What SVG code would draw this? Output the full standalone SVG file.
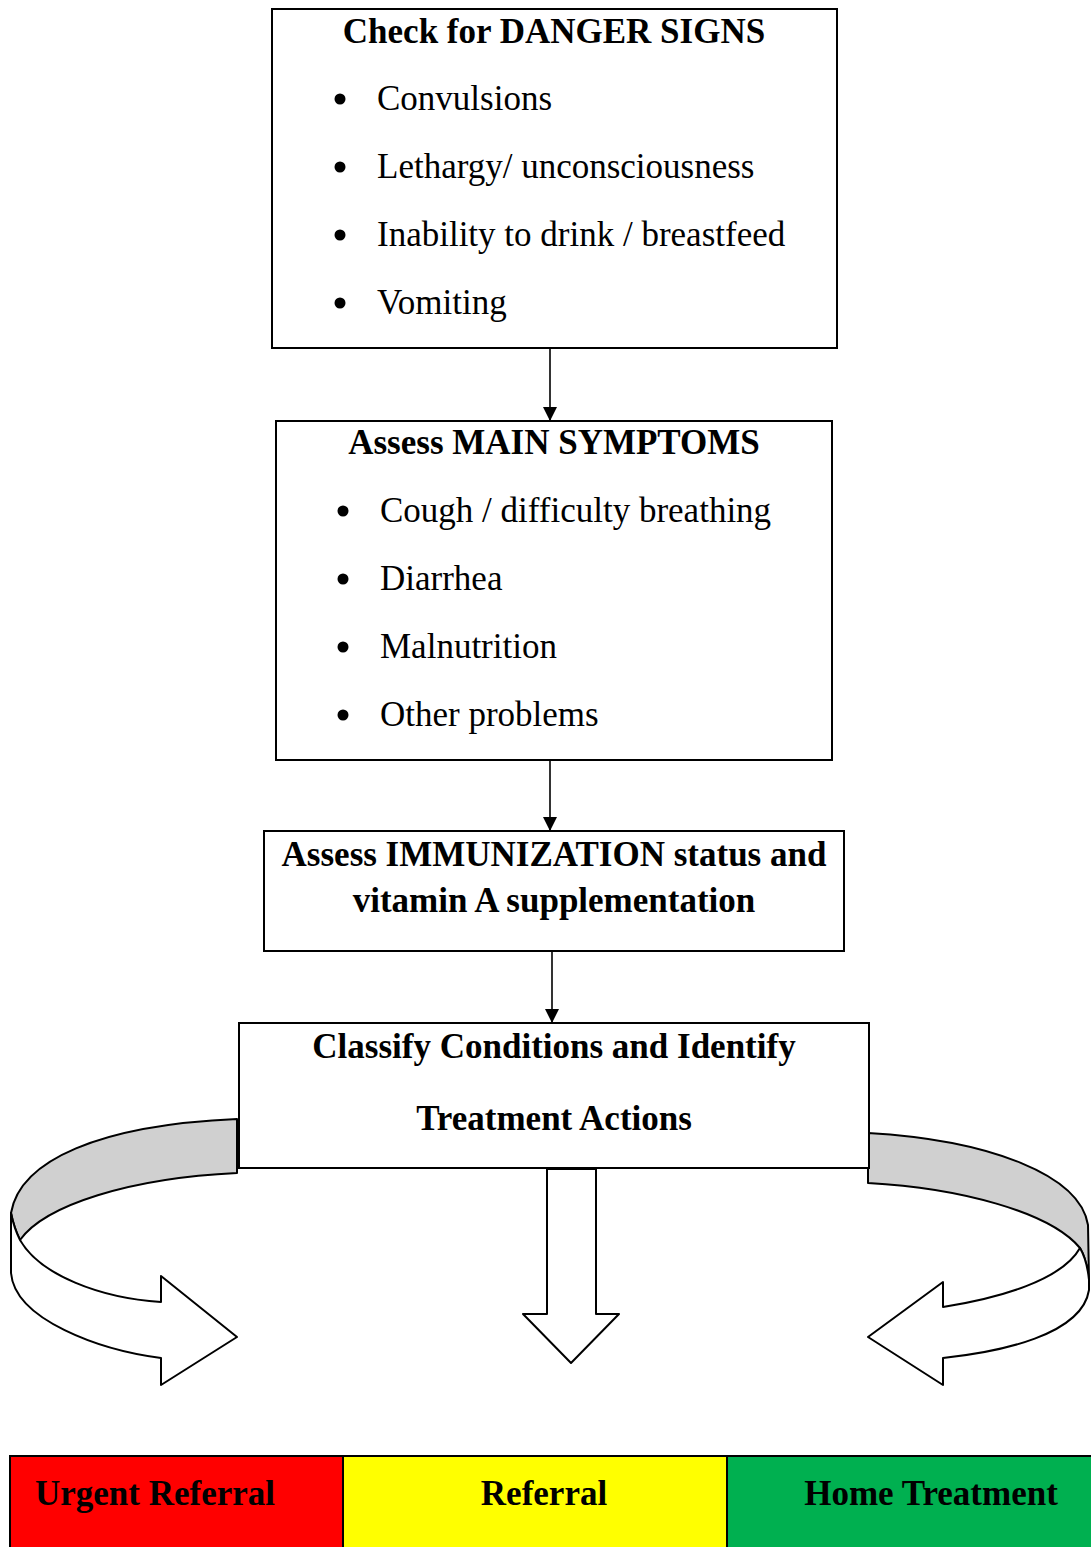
<svg xmlns="http://www.w3.org/2000/svg" width="1091" height="1547" viewBox="0 0 1091 1547">
<style>
.box{fill:#fff;stroke:#000;stroke-width:2}
.t{font-family:"Liberation Serif","Times New Roman",serif;font-size:35px;fill:#000}
.b{font-weight:bold}
.c{text-anchor:middle}
.line{stroke:#000;stroke-width:1.6;fill:none}
.rib{stroke:#000;stroke-width:2;stroke-linejoin:round}
</style>
<defs>
<marker id="ah" viewBox="0 0 10 10" refX="10" refY="5" markerWidth="14" markerHeight="14" markerUnits="userSpaceOnUse" orient="auto">
<path d="M0,0 L10,5 L0,10 Z" fill="#000"/>
</marker>
</defs>
<rect width="1091" height="1547" fill="#fff"/>

<g id="connectors">
<line class="line" x1="550" y1="348" x2="550" y2="421" marker-end="url(#ah)"/>
<line class="line" x1="550" y1="760" x2="550" y2="831" marker-end="url(#ah)"/>
<line class="line" x1="552" y1="945" x2="552" y2="1023" marker-end="url(#ah)"/>
</g>

<g id="danger">
<rect class="box" x="272" y="9" width="565" height="339"/>
<text class="t b c" x="554" y="43">Check for DANGER SIGNS</text>
<circle cx="340" cy="99" r="5.5"/><text class="t" x="377" y="110">Convulsions</text>
<circle cx="340" cy="167" r="5.5"/><text class="t" x="377" y="178">Lethargy/ unconsciousness</text>
<circle cx="340" cy="235" r="5.5"/><text class="t" x="377" y="246">Inability to drink / breastfeed</text>
<circle cx="340" cy="303" r="5.5"/><text class="t" x="377" y="314">Vomiting</text>
</g>

<g id="symptoms">
<rect class="box" x="276" y="421" width="556" height="339"/>
<text class="t b c" x="554" y="454">Assess MAIN SYMPTOMS</text>
<circle cx="343" cy="511" r="5.5"/><text class="t" x="380" y="522">Cough / difficulty breathing</text>
<circle cx="343" cy="579" r="5.5"/><text class="t" x="380" y="590">Diarrhea</text>
<circle cx="343" cy="647" r="5.5"/><text class="t" x="380" y="658">Malnutrition</text>
<circle cx="343" cy="715" r="5.5"/><text class="t" x="380" y="726">Other problems</text>
</g>

<g id="immunization">
<rect class="box" x="264" y="831" width="580" height="120"/>
<text class="t b c" x="554" y="866">Assess IMMUNIZATION status and</text>
<text class="t b c" x="554" y="912">vitamin A supplementation</text>
</g>

<g id="arrows">
<path class="rib" fill="#d0d0d0" d="M237,1119 C100,1125 20,1160 11,1213 Q14,1228 20,1240 C45,1205 130,1178 237,1173 Z"/>
<path class="rib" fill="#fff" d="M11,1213 L11,1273 C15,1320 100,1350 161,1358 L161,1385 L237,1337 L161,1276 L161,1302 C100,1298 40,1275 20,1240 Q14,1228 11,1213 Z"/>
<path class="rib" fill="#d0d0d0" d="M868,1133 C990,1140 1080,1175 1088,1225 L1089,1280 Q1087,1260 1080,1248 C1050,1212 960,1188 868,1183 Z"/>
<path class="rib" fill="#fff" d="M1080,1248 Q1087,1260 1089,1280 L1089,1290 C1082,1335 1000,1352 943,1358 L943,1385 L868,1337 L943,1282 L943,1307 C1000,1298 1062,1280 1080,1248 Z"/>
<path class="rib" fill="#fff" d="M547,1169 L596,1169 L596,1314 L619,1314 L571,1363 L523,1314 L547,1314 Z"/>
</g>

<g id="classify">
<rect class="box" x="239" y="1023" width="630" height="145"/>
<text class="t b c" x="554" y="1058">Classify Conditions and Identify</text>
<text class="t b c" x="554" y="1130">Treatment Actions</text>
</g>

<g id="outcomes">
<rect x="10" y="1456" width="333" height="95" fill="#ff0000" stroke="#000" stroke-width="2"/>
<rect x="343" y="1456" width="384" height="95" fill="#ffff00" stroke="#000" stroke-width="2"/>
<rect x="727" y="1456" width="370" height="95" fill="#00b050" stroke="#000" stroke-width="2"/>
<text class="t b" x="35" y="1505">Urgent Referral</text>
<text class="t b c" x="544" y="1505">Referral</text>
<text class="t b c" x="931" y="1505">Home Treatment</text>
</g>
</svg>
